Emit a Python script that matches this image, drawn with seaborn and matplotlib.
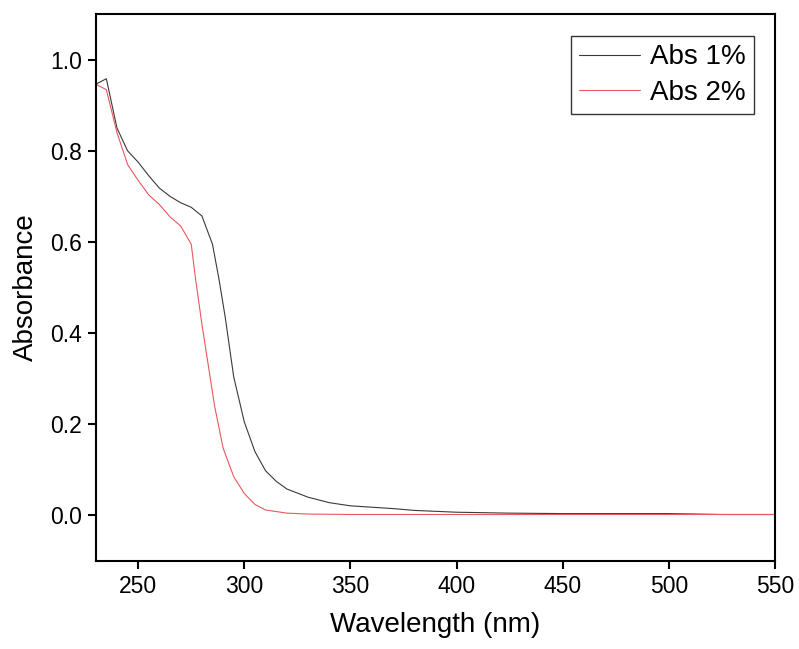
import matplotlib
matplotlib.use("Agg")
import matplotlib.pyplot as plt
import seaborn as sns
import pandas as pd

# UV-Vis absorbance spectra
wl_1 = [230, 235, 240, 245, 250, 255, 260, 265, 270, 275, 280, 285, 288, 291,
        295, 300, 305, 310, 315, 320, 330, 340, 350, 360, 370, 380, 390, 400,
        425, 450, 475, 500, 525, 550]
abs_1 = [0.946, 0.958, 0.850, 0.800, 0.775, 0.745, 0.718, 0.700, 0.686, 0.676,
         0.657, 0.595, 0.520, 0.435, 0.304, 0.205, 0.140, 0.098, 0.075, 0.058,
         0.040, 0.028, 0.021, 0.018, 0.015, 0.011, 0.009, 0.007, 0.005, 0.004,
         0.004, 0.004, 0.002, 0.002]

wl_2 = [230, 235, 240, 245, 250, 255, 260, 265, 270, 275, 277, 280, 283, 286,
        290, 295, 300, 305, 310, 320, 330, 350, 400, 450, 500, 550]
abs_2 = [0.946, 0.934, 0.840, 0.770, 0.735, 0.703, 0.682, 0.655, 0.635, 0.595,
         0.520, 0.420, 0.330, 0.240, 0.148, 0.085, 0.048, 0.024, 0.012, 0.005,
         0.003, 0.002, 0.002, 0.002, 0.002, 0.002]

series_names = ["Abs 1%", "Abs 2%"]
series_colors = ["#3a3a3a", "#e8585c"]

x_ticks = [250, 300, 350, 400, 450, 500, 550]
y_ticks = [0.0, 0.2, 0.4, 0.6, 0.8, 1.0]

df = pd.concat([
    pd.DataFrame({"Wavelength": wl_1, "Absorbance": abs_1, "Sample": series_names[0]}),
    pd.DataFrame({"Wavelength": wl_2, "Absorbance": abs_2, "Sample": series_names[1]}),
])

sns.set_style("ticks")
plt.rcParams["font.family"] = ["Liberation Sans", "DejaVu Sans"]
plt.rcParams["text.color"] = "black"
plt.rcParams["axes.labelcolor"] = "black"

fig = plt.figure(figsize=(7.99, 6.49), dpi=100)
ax = fig.add_axes([0.1198, 0.1356, 0.8502, 0.8428])

sns.lineplot(data=df, x="Wavelength", y="Absorbance", hue="Sample",
             palette=dict(zip(series_names, series_colors)),
             linewidth=0.8, ax=ax, sort=False, estimator=None)

ax.set_xlim(230, 550)
ax.set_ylim(-0.1, 1.1)
ax.set_xticks(x_ticks)
ax.set_yticks(y_ticks)
ax.set_yticklabels([f"{v:.1f}" for v in y_ticks])
ax.tick_params(axis="both", direction="out", length=6, width=1.5,
               labelsize=16.5, color="black", labelcolor="black", pad=4)

for side in ["left", "right", "top", "bottom"]:
    ax.spines[side].set_visible(True)
    ax.spines[side].set_linewidth(1.5)
    ax.spines[side].set_color("black")

ax.set_xlabel("Wavelength (nm)", fontsize=20, labelpad=10, color="black")
ax.set_ylabel("Absorbance", fontsize=20, labelpad=8, color="black")

leg = ax.legend(loc="upper right", bbox_to_anchor=(0.969, 0.960),
                fontsize=20, frameon=True, fancybox=False, handlelength=2.2,
                handletextpad=0.35, borderpad=0.3, labelspacing=0.35,
                borderaxespad=0.0)
leg.get_frame().set_edgecolor("black")
leg.get_frame().set_linewidth(1.0)
for line in leg.get_lines():
    line.set_linewidth(0.8)
for txt in leg.get_texts():
    txt.set_color("black")

fig.savefig("out.png", dpi=100)
